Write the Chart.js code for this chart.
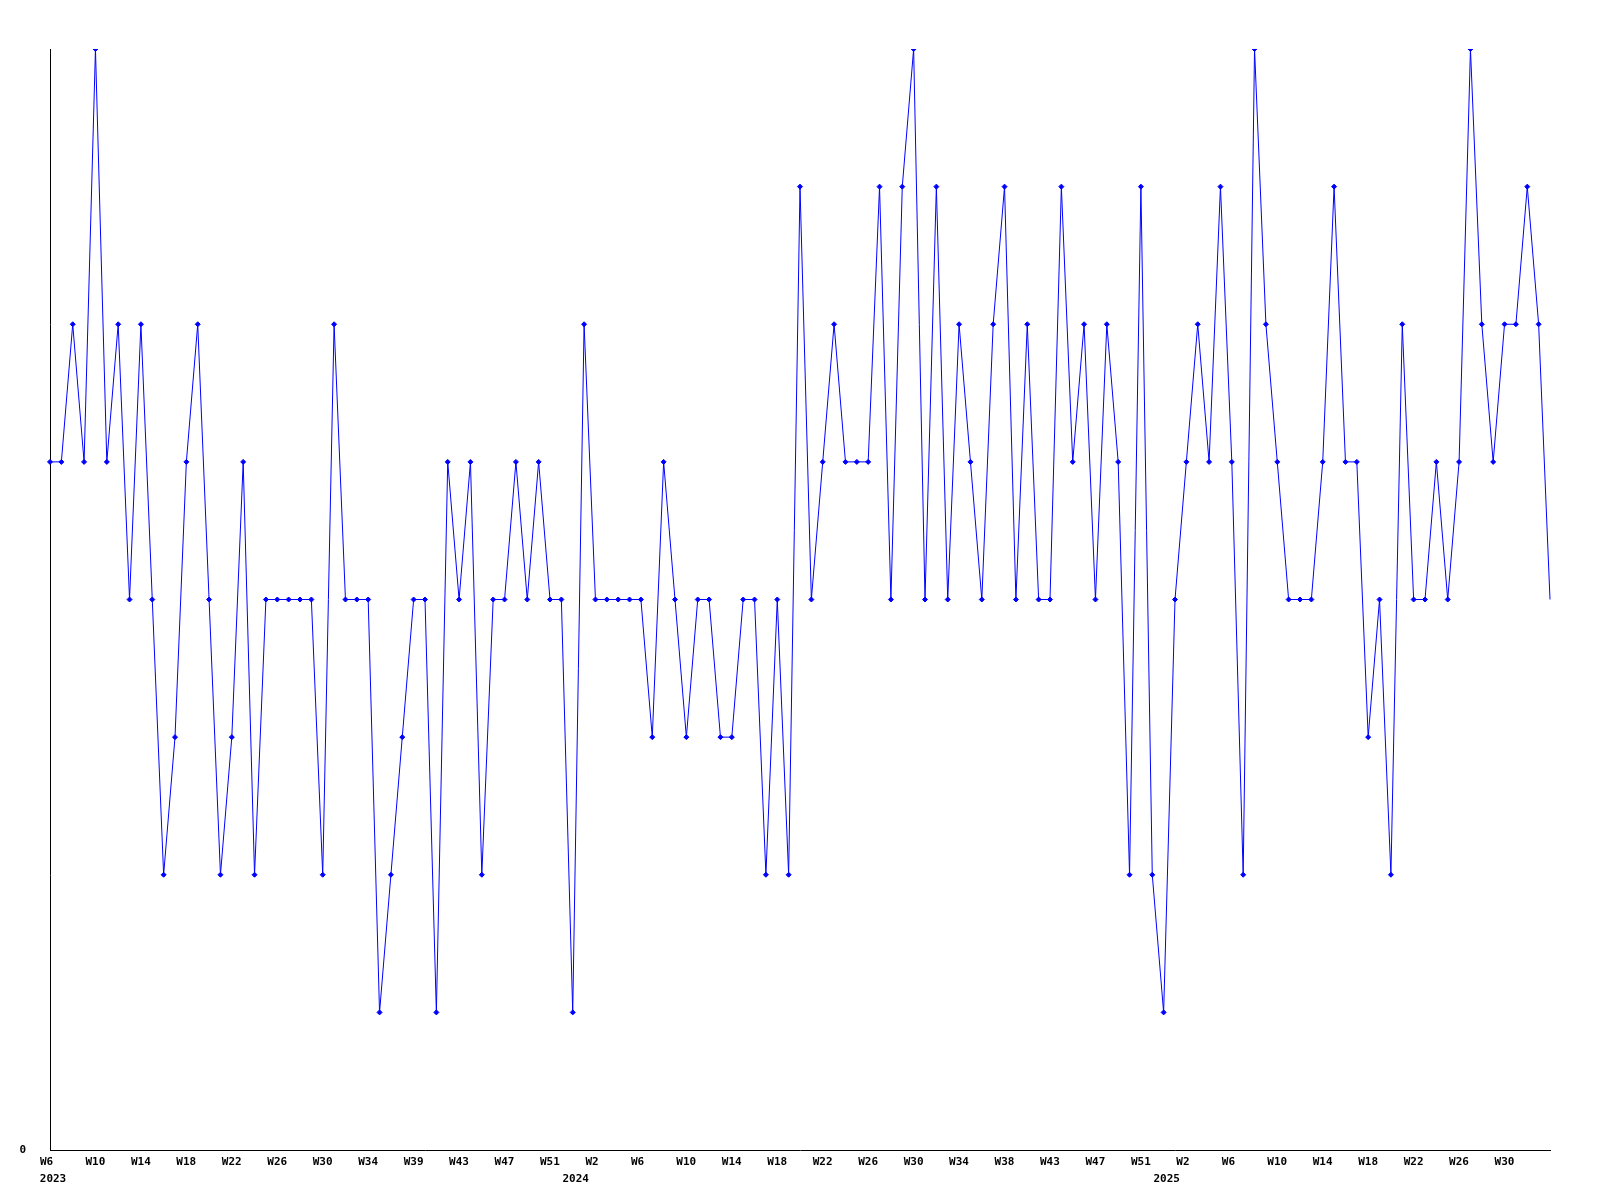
<!DOCTYPE html>
<html>
<head>
<meta charset="utf-8">
<script src="https://cdn.jsdelivr.net/npm/chart.js@4"></script>
<style>
  body { margin: 0; background: #fff; }
</style>
</head>
<body>
<canvas id="weekChart" width="1600" height="1200"></canvas>
<script>
// weeks per year: [year, first week, last week]
const weekRanges = [
    [2023, 6, 52],
    [2024, 1, 52],
    [2025, 1, 34]
];

// weekly counts, W6 2023 .. W34 2025
const counts = [
    5, 5, 6, 5, 8, 5, 6, 4, 6, 4,
    2, 3, 5, 6, 4, 2, 3, 5, 2, 4,
    4, 4, 4, 4, 2, 6, 4, 4, 4, 1,
    2, 3, 4, 4, 1, 5, 4, 5, 2, 4,
    4, 5, 4, 5, 4, 4, 1, 6, 4, 4,
    4, 4, 4, 3, 5, 4, 3, 4, 4, 3,
    3, 4, 4, 2, 4, 2, 7, 4, 5, 6,
    5, 5, 5, 7, 4, 7, 8, 4, 7, 4,
    6, 5, 4, 6, 7, 4, 6, 4, 4, 7,
    5, 6, 4, 6, 5, 2, 7, 2, 1, 4,
    5, 6, 5, 7, 5, 2, 8, 6, 5, 4,
    4, 4, 5, 7, 5, 5, 3, 4, 2, 6,
    4, 4, 5, 4, 5, 8, 6, 5, 6, 6,
    7, 6, 4
];

// x tick texts, one on every 4th point
const tickStep = 4;
const tickTexts = [
    'W6', 'W10', 'W14', 'W18', 'W22', 'W26', 'W30', 'W34', 'W39', 'W43', 'W47', 'W51',
    'W2', 'W6', 'W10', 'W14', 'W18', 'W22', 'W26', 'W30', 'W34', 'W38', 'W43', 'W47', 'W51',
    'W2', 'W6', 'W10', 'W14', 'W18', 'W22', 'W26', 'W30'
];

// year labels under the axis: [point index, text]
const yearTicks = [
    [0, '2023'],
    [46, '2024'],
    [98, '2025']
];

const labels = [];
weekRanges.forEach(r => {
    for (let w = r[1]; w <= r[2]; w++) labels.push(r[0] + '-W' + w);
});

const tickFont = { family: 'DejaVu Sans Mono', size: 11, weight: 'bold' };

new Chart(document.getElementById('weekChart'), {
    type: 'line',
    data: {
        labels: labels,
        datasets: [
            {
                data: counts,
                borderColor: '#0000ff',
                borderWidth: 1,
                backgroundColor: '#0000ff',
                pointStyle: 'rectRot',
                pointRadius: ctx => (ctx.dataIndex === counts.length - 1 ? 0 : 2.5),
                pointBorderWidth: 1,
                pointBorderColor: '#0000ff',
                pointBackgroundColor: '#0000ff',
                tension: 0,
                fill: false
            }
        ]
    },
    options: {
        responsive: false,
        animation: false,
        layout: {
            padding: { top: 49, right: 50, bottom: 0, left: 0 }
        },
        plugins: {
            legend: { display: false },
            tooltip: { enabled: false }
        },
        scales: {
            x: {
                weight: 0,
                grid: { display: false, drawTicks: false },
                border: { display: true, color: '#000', width: 1 },
                afterFit: s => { s.height = 22; },
                ticks: {
                    autoSkip: false,
                    maxRotation: 0,
                    minRotation: 0,
                    align: 'start',
                    padding: 6,
                    labelOffset: -10,
                    color: '#000',
                    font: tickFont,
                    callback: function (value) {
                        if (value % tickStep !== 0) return null;
                        const t = tickTexts[value / tickStep];
                        return t === undefined ? null : t;
                    }
                }
            },
            x2: {
                type: 'category',
                position: 'bottom',
                weight: 1,
                labels: labels,
                grid: { display: false, drawTicks: false },
                border: { display: false },
                afterFit: s => { s.height = 28; },
                ticks: {
                    autoSkip: false,
                    maxRotation: 0,
                    minRotation: 0,
                    padding: 1,
                    labelOffset: 3,
                    color: '#000',
                    font: tickFont,
                    callback: function (value) {
                        const y = yearTicks.find(t => t[0] === value);
                        return y ? y[1] : null;
                    }
                }
            },
            y: {
                min: 0,
                max: 8,
                grid: { display: false, drawTicks: false },
                border: { display: true, color: '#000', width: 1 },
                afterFit: s => { s.width = 50; },
                ticks: {
                    stepSize: 1,
                    padding: 24,
                    color: '#000',
                    font: tickFont,
                    callback: v => (v === 0 ? '0' : null)
                }
            }
        }
    }
});
</script>
</body>
</html>
